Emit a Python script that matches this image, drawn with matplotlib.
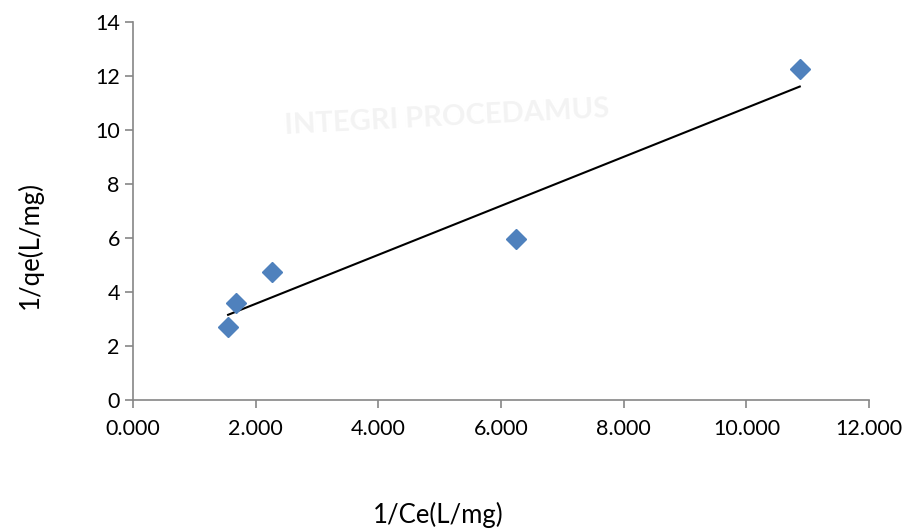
import numpy as np
import matplotlib
matplotlib.use('Agg')
import matplotlib.pyplot as plt

plt.rcParams['font.family'] = ['Lato', 'DejaVu Sans']

# data
inv_ce = [1.55, 1.68, 2.27, 6.24, 10.87]
inv_qe = [2.70, 3.59, 4.74, 5.96, 12.26]
x_ticks = [0, 2, 4, 6, 8, 10, 12]
y_ticks = [0, 2, 4, 6, 8, 10, 12, 14]

fig = plt.figure(figsize=(9.11, 5.31), dpi=100)
ax = fig.add_axes([0.146, 0.2467, 0.808, 0.712])

# faint watermark
ax.text(5.12, 10.45, 'INTEGRI PROCEDAMUS', color='#f3f3f3', fontsize=21,
        ha='center', va='center', rotation=3, zorder=0, fontweight='bold')

ax.plot(inv_ce, inv_qe, 'D', color='#4F81BD', markersize=10, zorder=3)

# linear trendline
slope, icpt = np.polyfit(inv_ce, inv_qe, 1)
xs = np.array([min(inv_ce), max(inv_ce)])
ax.plot(xs, slope * xs + icpt, color='black', lw=1.5, zorder=2)

ax.set_xlim(0, 12)
ax.set_ylim(0, 14)
ax.set_xticks(x_ticks)
ax.set_xticklabels(['%.3f' % v for v in x_ticks])
ax.set_yticks(y_ticks)

for s in ['top', 'right']:
    ax.spines[s].set_visible(False)
for s in ['left', 'bottom']:
    ax.spines[s].set_color('#868686')
    ax.spines[s].set_linewidth(1.2)
ax.tick_params(axis='both', colors='#868686', labelcolor='black',
               labelsize=15.5, length=6, width=1.2)
ax.tick_params(axis='x', pad=8)

fig.text(0.481, 0.03, '1/Ce(L/mg)', ha='center', va='center', fontsize=18.5)
fig.text(0.033, 0.539, '1/qe(L/mg)', ha='center', va='center', fontsize=18.5, rotation=90)

fig.savefig('out.png', dpi=100)
